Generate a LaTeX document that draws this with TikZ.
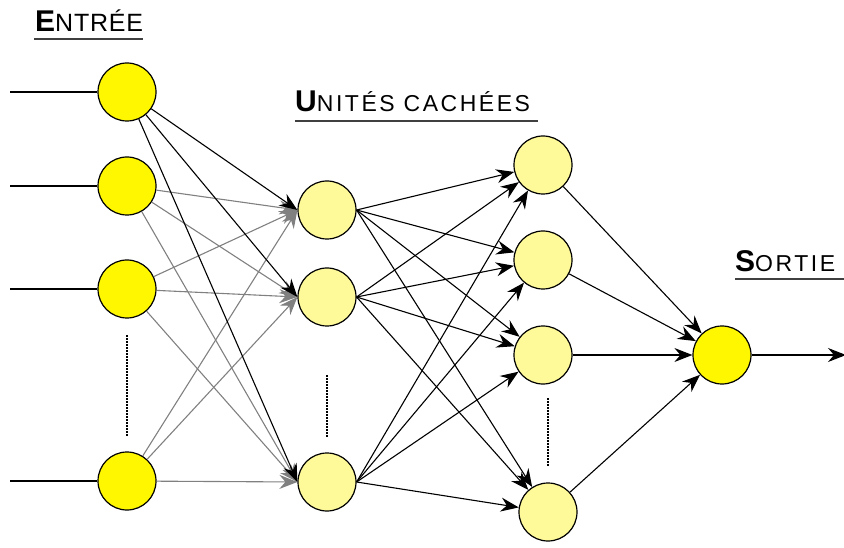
\documentclass[tikz,border=0pt]{standalone}
\usepackage{fontspec}
\setmainfont{Liberation Sans}
\newfontfamily\labfont[LetterSpace=11]{Liberation Sans}
\newfontfamily\labfontn[LetterSpace=3]{Liberation Sans}
\usetikzlibrary{arrows.meta}
\definecolor{brightyel}{HTML}{FFF700}
\definecolor{paleyel}{HTML}{FFFA99}
\definecolor{edgegray}{HTML}{808080}
\begin{document}
\begin{tikzpicture}[x=1pt,y=-1pt,
  neuron/.style={circle,draw=black,line width=1.2pt,minimum size=58pt,inner sep=0pt},
  inneuron/.style={neuron,fill=brightyel},
  hidneuron/.style={neuron,fill=paleyel},
  blackarr/.style={draw=black,line width=1.1pt,-{Stealth[length=18pt,width=14pt,inset=6pt]}},
  grayarr/.style={draw=edgegray,line width=1.1pt,-{Stealth[length=18pt,width=14pt,inset=6pt]}},
  feed/.style={draw=black,line width=1.3pt},
  dots/.style={draw=black,line width=1.5pt,dash pattern=on 1.5pt off 1.5pt},
  uline/.style={draw=black!75,line width=2pt},
  title/.style={anchor=base west,inner sep=0pt,font=\fontsize{30}{30}\selectfont\bfseries}
]
\useasboundingbox (0,0) rectangle (844,548);
% labels
\node[title] (le) at (35,32) {E\labfontn\mdseries\fontsize{25}{25}\selectfont NTRÉE};
\node[title] (lu) at (295,112) {U\labfont\mdseries\fontsize{23}{23}\selectfont NITÉS CACHÉES};
\node[title] (ls) at (735,272) {S\labfont\mdseries\fontsize{23}{23}\selectfont ORTIE};
\coordinate (ua1) at (34,39); \coordinate (ub1) at (143,39);
\coordinate (ua2) at (295,121); \coordinate (ub2) at (538,121);
\coordinate (ua3) at (735,279); \coordinate (ub3) at (844,279);
\draw[uline] (ua1) -- (ub1);
\draw[uline] (ua2) -- (ub2);
\draw[uline] (ua3) -- (ub3);
% nodes
\node[inneuron] (i1) at (127,92) {};
\node[inneuron] (i2) at (127,186) {};
\node[inneuron] (i3) at (127,289) {};
\node[inneuron] (i4) at (127,481) {};
\node[hidneuron] (h1) at (327,210) {};
\node[hidneuron] (h2) at (327,297) {};
\node[hidneuron] (h3) at (327,482) {};
\node[hidneuron] (k1) at (543,165) {};
\node[hidneuron] (k2) at (543,260) {};
\node[hidneuron] (k3) at (543,355) {};
\node[hidneuron] (k4) at (548,512) {};
\node[inneuron] (o) at (722,355) {};
% dotted continuation marks
\coordinate (da1) at (127,335); \coordinate (db1) at (127,437);
\coordinate (da2) at (327,375); \coordinate (db2) at (327,437);
\coordinate (da3) at (548,398); \coordinate (db3) at (548,466);
\draw[dots] (da1) -- (db1);
\draw[dots] (da2) -- (db2);
\draw[dots] (da3) -- (db3);
% input feeds
\coordinate (s1) at (10,92);
\coordinate (s2) at (10,186);
\coordinate (s3) at (10,289);
\coordinate (s4) at (10,481);
\foreach \k in {1,2,3,4} \draw[feed] (s\k) -- (i\k);
% output
\coordinate (oe) at (846,355);
\draw[blackarr,line width=1.3pt] (o) -- (oe);
% input -> hidden 1
\foreach \i in {i2,i3,i4} \foreach \h in {h1,h2,h3} \draw[grayarr] (\i) -- (\h.west);
\foreach \h in {h1,h2,h3} \draw[blackarr] (i1) -- (\h.west);
% hidden 1 -> hidden 2
\foreach \h in {h1,h2,h3} \foreach \k in {k1,k2,k3,k4} \draw[blackarr] (\h.east) -- (\k);
% hidden 2 -> output
\foreach \k in {k1,k2,k3,k4} \draw[blackarr] (\k) -- (o);
\end{tikzpicture}
\end{document}
